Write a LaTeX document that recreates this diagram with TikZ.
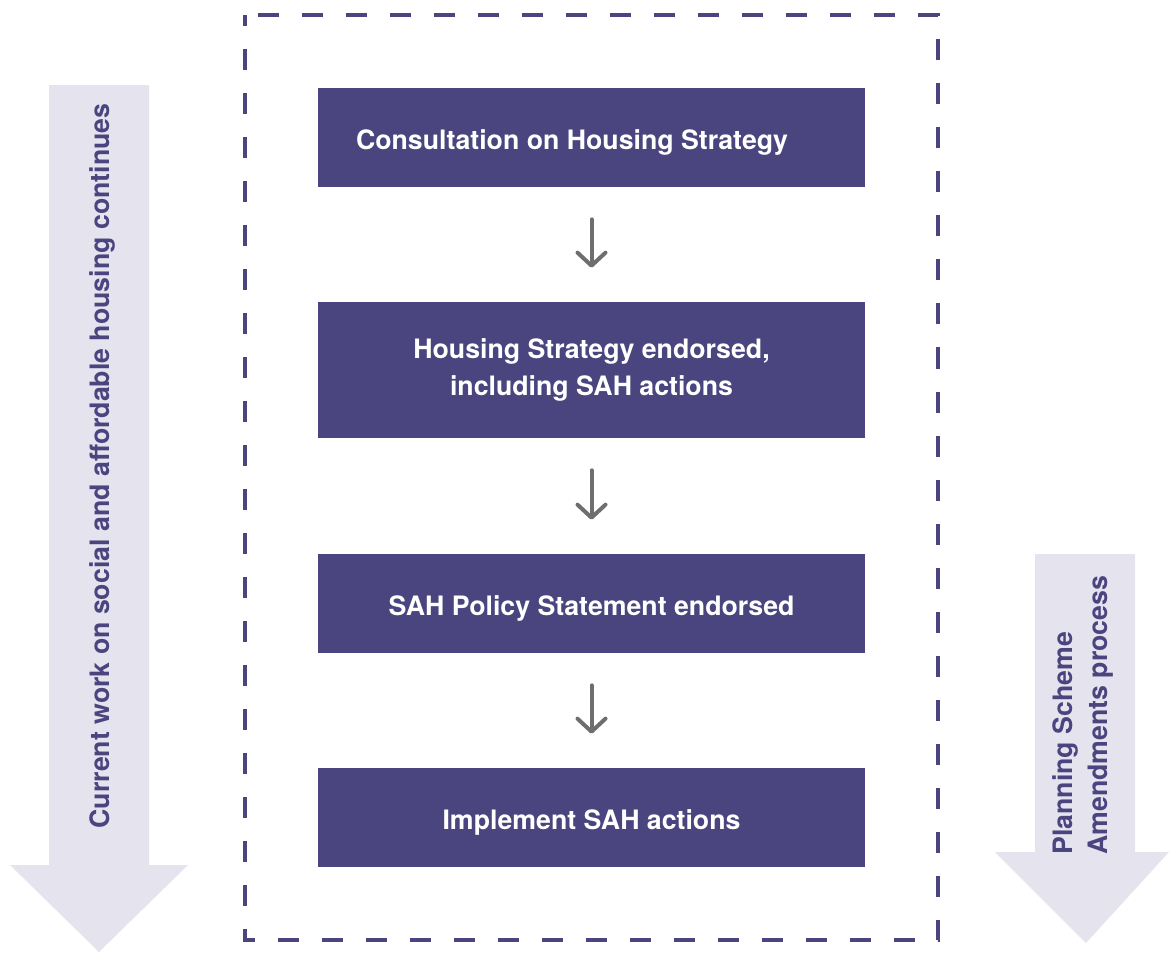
\documentclass[tikz,border=0pt]{standalone}
\usepackage{fontspec}
\setmainfont{TeX Gyre Heros}
\usetikzlibrary{arrows.meta,positioning}
\definecolor{roxoesc}{HTML}{4A457F}
\definecolor{lilas}{HTML}{E4E3EE}
\definecolor{cinza}{HTML}{6E6E6E}

\begin{document}
\begin{tikzpicture}[
  etapa/.style={fill=roxoesc, minimum width=10.94cm, minimum height=1.98cm,
                align=center, text=white, inner sep=0pt,
                text height=14pt, text depth=0pt,
                font=\bfseries\fontsize{15.2}{21.5}\selectfont},
  lateral/.style={rotate=90, text=roxoesc, inner sep=0pt, align=left,
                  font=\bfseries\fontsize{15.2}{20}\selectfont},
  seta/.style={-{Straight Barb[length=0.26cm, width=0.56cm, line cap=round, line join=round]},
               cinza, line width=0.08cm, line cap=round,
               shorten <=0.64cm, shorten >=0.68cm}
]
\useasboundingbox (0,0) rectangle (23.38,-19.04);
% grandes setas laterais
\fill[lilas] (0.98,-1.70) -- (2.98,-1.70) -- (2.98,-17.30) -- (3.76,-17.30)
  -- (1.98,-19.04) -- (0.20,-17.30) -- (0.98,-17.30) -- cycle;
\fill[lilas] (20.70,-11.08) -- (22.70,-11.08) -- (22.70,-17.04) -- (23.38,-17.04)
  -- (21.72,-18.86) -- (19.90,-17.04) -- (20.70,-17.04) -- cycle;
% moldura tracejada
\draw[roxoesc, line width=0.08cm, dash pattern=on 0.42cm off 0.46cm, dash phase=0.21cm]
  (4.90,-0.30) rectangle (18.76,-18.80);
\node[etapa] (e1) at (11.83,-2.75)  {Consultation on Housing Strategy\hspace*{0.78cm}};
\node[etapa, minimum height=2.72cm, text height={}, text depth={}] (e2) at (11.83,-7.40)
  {Housing Strategy endorsed,\\including SAH actions};
\node[etapa] (e3) at (11.83,-12.07) {SAH Policy Statement endorsed};
\node[etapa] (e4) at (11.83,-16.35) {Implement SAH actions};
\draw[seta] (e1) -- (e2);
\draw[seta] (e2) -- (e3);
\draw[seta] (e3) -- (e4);
\node[lateral] (atual) at (2.04,-9.32)
  {Current work on social and affordable housing continues};
\node[lateral, anchor=west] (planos) at (21.66,-17.10)
  {Planning Scheme\\Amendments process};
\end{tikzpicture}
\end{document}
